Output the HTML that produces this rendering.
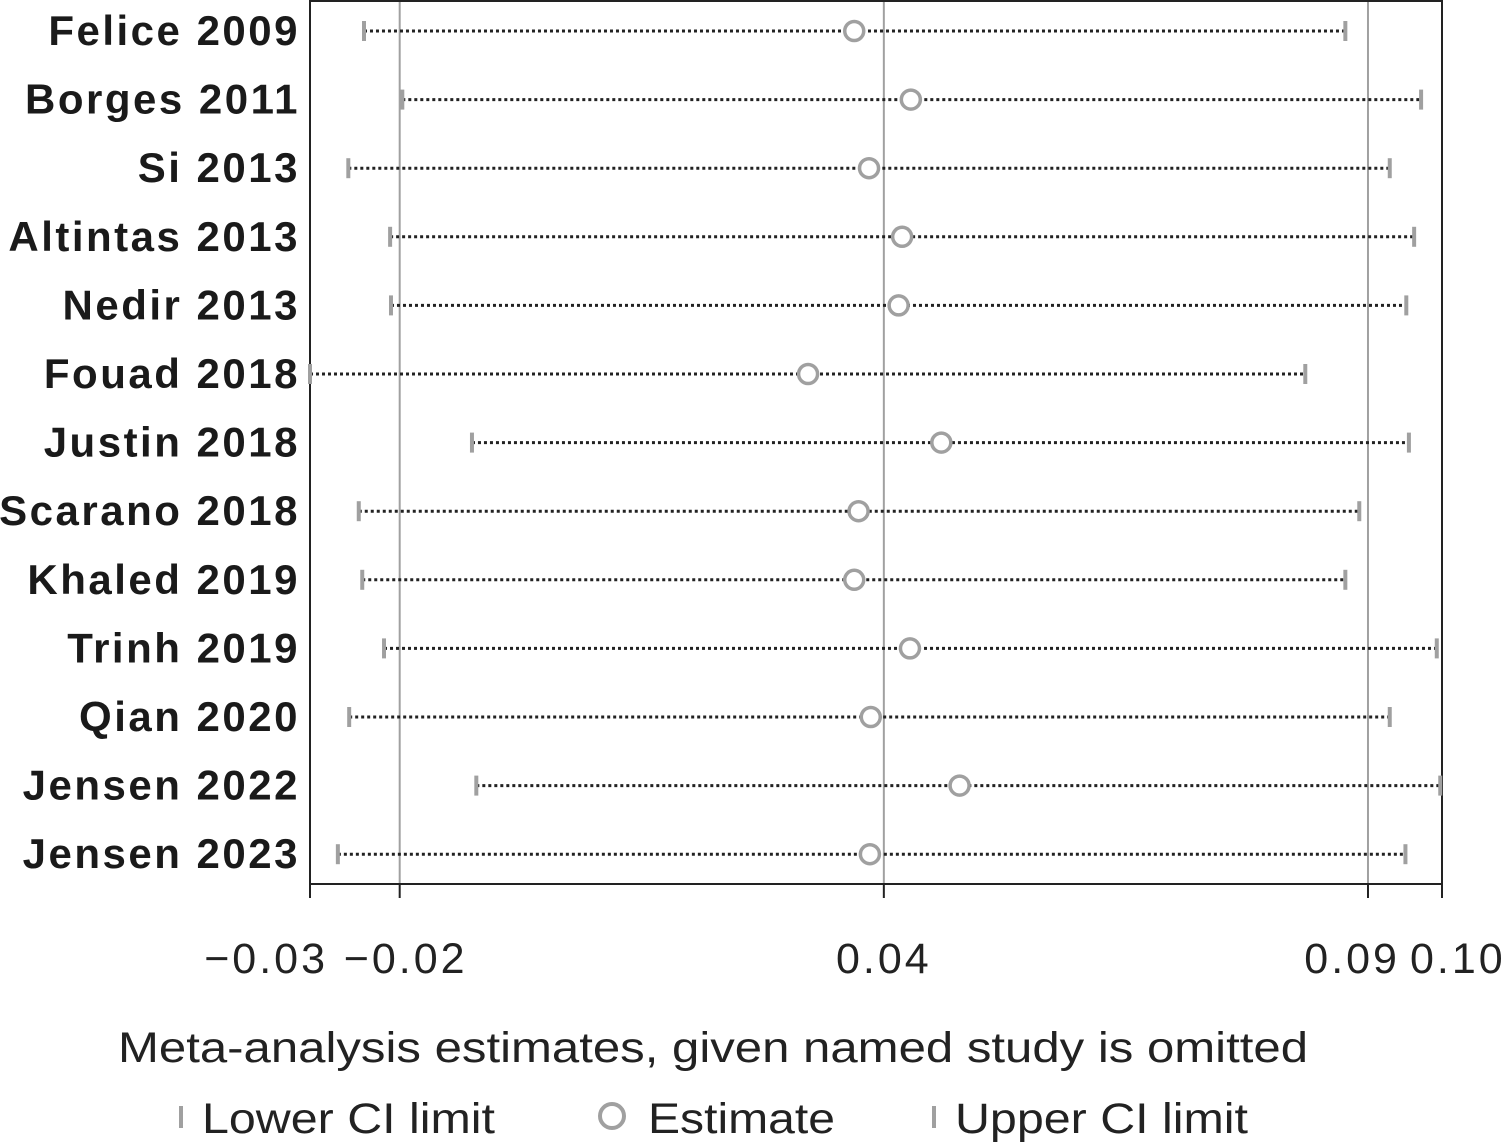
<!DOCTYPE html>
<html><head><meta charset="utf-8"><style>
html,body{margin:0;padding:0;background:#fff;}
svg{display:block;font-family:"Liberation Sans",sans-serif;}
</style></head><body>
<svg id="chart" width="1502" height="1148" viewBox="0 0 1502 1148"></svg>
<script>
const studies=["Felice 2009","Borges 2011","Si 2013","Altintas 2013","Nedir 2013","Fouad 2018","Justin 2018","Scarano 2018","Khaled 2019","Trinh 2019","Qian 2020","Jensen 2022","Jensen 2023"];
const lowerCI=[-0.0238,-0.0194,-0.0256,-0.0208,-0.0207,-0.0300,-0.0114,-0.0244,-0.0240,-0.0215,-0.0255,-0.0109,-0.0268];
const estimates=[0.0325,0.0390,0.0342,0.0380,0.0376,0.0272,0.0425,0.0330,0.0325,0.0389,0.0344,0.0446,0.0343];
const upperCI=[0.0889,0.0976,0.0940,0.0968,0.0959,0.0843,0.0962,0.0905,0.0889,0.0994,0.0940,0.0998,0.0958];
const tickValues=[-0.0300,-0.0197,0.0359,0.0915,0.1000];
const tickLabels=["\u22120.03","\u22120.02","0.04","0.09","0.10"];
const gridValues=[-0.0197,0.0359,0.0915];

const NS="http://www.w3.org/2000/svg";
const svg=document.getElementById("chart");
const L=310,R=1442,T=0,B=884,vmin=-0.03,vmax=0.10;
const x=v=>L+(v-vmin)/(vmax-vmin)*(R-L);
const y=i=>31+i*68.6;
function mk(tag,attrs,parent){const e=document.createElementNS(NS,tag);for(const k in attrs)e.setAttribute(k,attrs[k]);(parent||svg).appendChild(e);return e;}

gridValues.forEach((g,i)=>{
  const l=mk("line",{x1:x(g),x2:x(g),y1:T,y2:B,stroke:"#a0a0a0","stroke-width":2});
  
  
});
const frame=mk("rect",{x:L,y:T+1,width:R-L,height:B-T-1,fill:"none",stroke:"#222","stroke-width":2});



tickValues.forEach((t,i)=>{
  const tk=mk("line",{x1:x(t),x2:x(t),y1:B,y2:B+14,stroke:"#222","stroke-width":2});
  
  
  const anchor=i==0?"end":(i==1?"middle":(i==3?"end":(i==4?"start":"middle")));
  let tx=x(t); if(i==0)tx=x(t)+18; if(i==1)tx=x(t)+6; if(i==3)tx=x(t)+32; if(i==4)tx=x(t)-32;
  const lb=mk("text",{x:tx,y:973,"text-anchor":anchor,"font-size":43,"letter-spacing":3,fill:"#222"});
  lb.textContent=tickLabels[i];
  
  
});

studies.forEach((s,i)=>{
  const yy=y(i);
  const lab=mk("text",{x:300,y:yy+14,"text-anchor":"end","font-size":42,"font-weight":600,"letter-spacing":2.5,fill:"#1a1a1a"});
  lab.textContent=s;
  
  
  const ln=mk("line",{x1:x(lowerCI[i]),x2:x(upperCI[i]),y1:yy,y2:yy,stroke:"#222","stroke-width":3,"stroke-dasharray":"3,3"});
  
  
  [lowerCI[i],upperCI[i]].forEach((v,j)=>{
    const c=mk("line",{x1:x(v),x2:x(v),y1:yy-10,y2:yy+10,stroke:"#a0a0a0","stroke-width":4});
    
    
  });
  const ci=mk("circle",{cx:x(estimates[i]),cy:yy,r:9.5,fill:"#fff",stroke:"#a0a0a0","stroke-width":3.5});
  
  
});

const title=mk("text",{x:118,y:1062,"font-size":43,fill:"#222",textLength:1190,lengthAdjust:"spacingAndGlyphs"});
title.textContent="Meta-analysis estimates, given named study is omitted";



const lg=mk("g",{});


mk("line",{x1:181,x2:181,y1:1106,y2:1128,stroke:"#a0a0a0","stroke-width":4},lg);
const t1=mk("text",{x:202,y:1133,"font-size":43,fill:"#222",textLength:293,lengthAdjust:"spacingAndGlyphs"},lg);t1.textContent="Lower CI limit";


mk("circle",{cx:612,cy:1116,r:12,fill:"#fff",stroke:"#a0a0a0","stroke-width":4},lg);
const t2=mk("text",{x:648,y:1133,"font-size":43,fill:"#222",textLength:187,lengthAdjust:"spacingAndGlyphs"},lg);t2.textContent="Estimate";


mk("line",{x1:934,x2:934,y1:1106,y2:1128,stroke:"#a0a0a0","stroke-width":4},lg);
const t3=mk("text",{x:955,y:1133,"font-size":43,fill:"#222",textLength:293,lengthAdjust:"spacingAndGlyphs"},lg);t3.textContent="Upper CI limit";


</script>
</body></html>
